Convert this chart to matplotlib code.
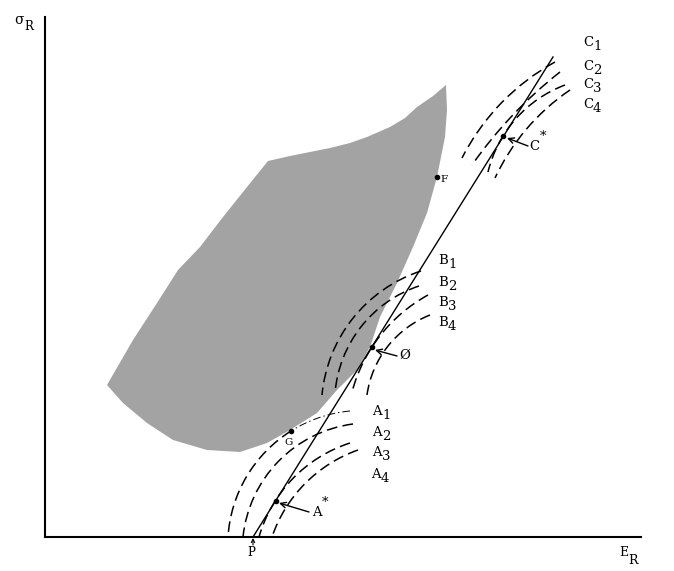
import numpy as np
import matplotlib
matplotlib.use("Agg")
import matplotlib.pyplot as plt
from matplotlib.patches import Arc, Polygon

plt.rcParams['font.family'] = ['DejaVu Serif', 'DejaVu Sans']

# ---- attainable set boundary (E_R, sigma_R) ----
region_E = [223, 245, 265, 285, 305, 322, 345, 360, 372, 388, 401,
            402, 400, 392, 382, 368, 352, 335, 325, 312, 292, 272, 245,
            222, 195, 162, 128, 102, 78, 62,
            88, 112, 133, 155, 178, 202]
region_S = [376, 381, 385, 389, 394, 400, 410, 419, 430, 441, 452,
            427, 400, 360, 324, 290, 254, 220, 190, 167, 147, 124, 107,
            94, 85, 87, 97, 114, 134, 152,
            197, 234, 267, 290, 320, 350]

# ---- line from P ----
line_E = [208, 508]
line_S = [0, 480]

# ---- indifference curves: three points (start, middle, end) each ----
curve_names = ['A1', 'A2', 'A3', 'A4', 'B1', 'B2', 'B3', 'B4', 'C1', 'C2', 'C3', 'C4']
curve_E = [[183, 246, 305], [198, 230, 308], [214, 270, 305], [227, 267, 313],
           [277, 322, 376], [290, 332, 374], [307, 327, 383], [322, 340, 385],
           [417, 448, 510], [427, 466, 515], [443, 458, 520], [450, 485, 525]]
curve_S = [[0, 106, 126], [0, 72, 113], [0, 77, 94], [0, 60, 87],
           [142, 234, 266], [144, 227, 251], [145, 190, 242], [142, 187, 222],
           [379, 425, 475], [372, 420, 465], [365, 401, 452], [359, 412, 447]]

# curve labels (letter centre position)
label_text = ['A', 'A', 'A', 'A', 'B', 'B', 'B', 'B', 'C', 'C', 'C', 'C']
label_sub = ['1', '2', '3', '4', '1', '2', '3', '4', '1', '2', '3', '4']
label_E = [327, 327, 327, 326, 393, 393, 393, 393, 538, 538, 538, 538]
label_S = [125.5, 105, 84, 62, 276.5, 254, 235, 215, 494.5, 471, 453, 433]

# marked points
point_names = ['A*', 'G', 'Ø', 'C*', 'F']
point_E = [231, 246, 327, 458, 392]
point_S = [36, 106, 190, 401, 360]


def circle3(p1, p2, p3):
    (ax_, ay_), (bx, by), (cx, cy) = p1, p2, p3
    d = 2 * (ax_ * (by - cy) + bx * (cy - ay_) + cx * (ay_ - by))
    ux = ((ax_**2 + ay_**2) * (by - cy) + (bx**2 + by**2) * (cy - ay_) + (cx**2 + cy**2) * (ay_ - by)) / d
    uy = ((ax_**2 + ay_**2) * (cx - bx) + (bx**2 + by**2) * (ax_ - cx) + (cx**2 + cy**2) * (bx - ax_)) / d
    r = np.hypot(ax_ - ux, ay_ - uy)
    return ux, uy, r


def ang(c, p):
    return np.degrees(np.arctan2(p[1] - c[1], p[0] - c[0])) % 360


def draw_arc(ax, c, r, pa, pb, **kw):
    a1, a2 = ang(c, pa), ang(c, pb)
    if (a2 - a1) % 360 <= 180:
        t1, t2 = a1, a2
    else:
        t1, t2 = a2, a1
    ax.add_patch(Arc(c, 2 * r, 2 * r, theta1=t1, theta2=t2, **kw))


fig = plt.figure(figsize=(6.74, 5.71), dpi=100)
ax = fig.add_axes([45 / 674, 34 / 571, 596 / 674, 520 / 571])
ax.set_xlim(0, 596)
ax.set_ylim(0, 520)
for s in ['top', 'right']:
    ax.spines[s].set_visible(False)
for s in ['left', 'bottom']:
    ax.spines[s].set_linewidth(1.5)
ax.set_xticks([])
ax.set_yticks([])

ax.add_patch(Polygon(np.column_stack([region_E, region_S]), closed=True,
                     facecolor='#a3a3a3', edgecolor='none', zorder=1))

ax.plot(line_E, line_S, color='black', lw=1.0, zorder=3)

dash = (0, (7, 3.5))
for name, es, ss in zip(curve_names, curve_E, curve_S):
    pts = list(zip(es, ss))
    ux, uy, r = circle3(*pts)
    if name == 'A1':
        draw_arc(ax, (ux, uy), r, pts[0], pts[1], lw=1.1, linestyle=dash, color='black', zorder=2)
        draw_arc(ax, (ux, uy), r, pts[1], pts[2], lw=0.7, linestyle=(0, (8, 3, 1.5, 3)), color='black', zorder=2)
    else:
        draw_arc(ax, (ux, uy), r, pts[0], pts[2], lw=1.1, linestyle=dash, color='black', zorder=2)

fs = 9.5
for t, sub, e, s in zip(label_text, label_sub, label_E, label_S):
    ax.text(e, s, t, fontsize=fs, ha='left', va='center')
    ax.text(e + 10, s - 4, sub, fontsize=fs, ha='left', va='center')

ax.plot(point_E, point_S, 'o', color='black', ms=3, zorder=4)

arrow = dict(arrowstyle='->', lw=1.0, color='black', shrinkA=0, shrinkB=0)
ax.annotate('', xy=(234, 34), xytext=(264, 25), arrowprops=arrow)
ax.annotate('', xy=(330, 187), xytext=(352, 181), arrowprops=arrow)
ax.annotate('', xy=(462, 399), xytext=(483, 391), arrowprops=arrow)
ax.text(267, 24.5, 'A', fontsize=fs, ha='left', va='center')
ax.text(277, 34, '*', fontsize=fs, ha='left', va='center')
ax.text(354, 181.5, 'Ø', fontsize=fs, ha='left', va='center')
ax.text(484, 391, 'C', fontsize=fs, ha='left', va='center')
ax.text(495, 400, '*', fontsize=fs, ha='left', va='center')
ax.text(244, 94.5, 'G', fontsize=7.5, ha='center', va='center')
ax.text(395, 357.5, 'F', fontsize=7.5, ha='left', va='center')

ax.annotate('', xy=(208, -1), xytext=(208, -8), annotation_clip=False,
            arrowprops=dict(arrowstyle='->', lw=0.8, color='black', shrinkA=0, shrinkB=0,
                            mutation_scale=6))
ax.text(206, -16, 'P', fontsize=8.5, ha='center', va='center')

ax.text(-26, 517, 'σ', fontsize=10, ha='center', va='center')
ax.text(-16.5, 511, 'R', fontsize=8.5, ha='center', va='center')
ax.text(579, -15, 'E', fontsize=9, ha='center', va='center')
ax.text(588, -23, 'R', fontsize=9, ha='center', va='center')

fig.savefig('out.png', dpi=100)
